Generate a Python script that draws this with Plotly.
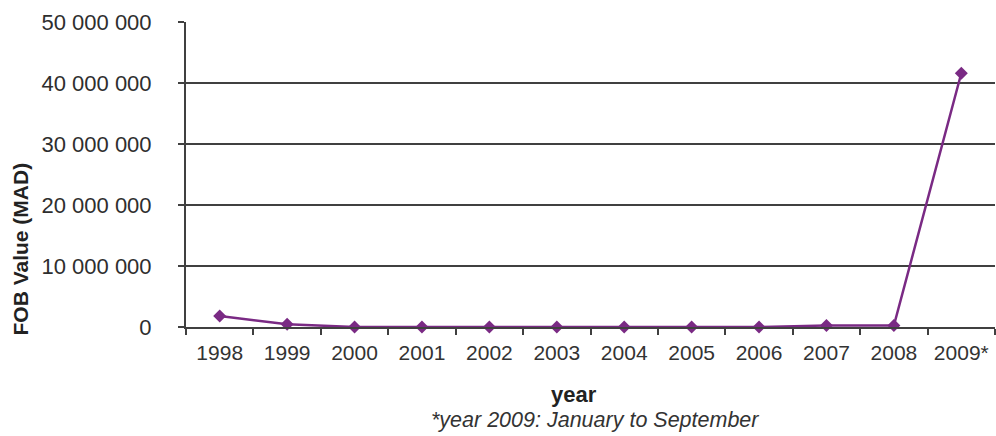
import plotly.graph_objects as go

years = ["1998", "1999", "2000", "2001", "2002", "2003", "2004", "2005", "2006", "2007", "2008", "2009*"]
fob_values = [1800000, 450000, 0, 0, 0, 0, 0, 0, 0, 250000, 250000, 41600000]
y_ticks = [0, 10000000, 20000000, 30000000, 40000000, 50000000]
y_tick_labels = ["0", "10 000 000", "20 000 000", "30 000 000", "40 000 000", "50 000 000"]

FONT = "Liberation Sans, Arial, sans-serif"

fig = go.Figure()
fig.add_trace(go.Scatter(
    x=years, y=fob_values, mode="lines+markers",
    line=dict(color="#7A2A84", width=2.5),
    marker=dict(symbol="diamond", size=10, color="#7A2A84"),
    showlegend=False, cliponaxis=False,
))

fig.update_layout(
    width=996, height=436,
    margin=dict(l=186, r=1, t=22, b=109),
    plot_bgcolor="white", paper_bgcolor="white",
    font=dict(family=FONT, color="#333333"),
    xaxis=dict(
        type="category", range=[-0.5, len(years) - 0.5],
        tickson="boundaries", ticks="outside", ticklen=6,
        tickcolor="#404040", tickwidth=2, tickangle=0,
        showline=True, linecolor="#404040", linewidth=2,
        showgrid=False, tickfont=dict(size=21, color="#333333", family=FONT),
        ticklabelstandoff=6,
    ),
    yaxis=dict(
        range=[0, 50000000], tickvals=y_ticks, ticktext=y_tick_labels,
        ticks="outside", ticklen=6, tickcolor="#404040", tickwidth=2,
        showline=True, linecolor="#404040", linewidth=2,
        showgrid=True, gridcolor="#404040", gridwidth=2, zeroline=False,
        tickfont=dict(size=22, color="#2e2e2e", family=FONT),
        ticklabelstandoff=22,
    ),
    annotations=[
        dict(text="<b>FOB Value (MAD)</b>", x=0, y=0.5, xref="paper", yref="paper",
             xshift=-166, yshift=-75, textangle=-90, xanchor="center", yanchor="middle",
             showarrow=False, font=dict(size=21, color="#222222", family=FONT)),
        dict(text="<b>year</b>", x=0.5, y=0, xref="paper", yref="paper",
             xshift=-17, yshift=-67, xanchor="center", yanchor="middle",
             showarrow=False, font=dict(size=22, color="#222222", family=FONT)),
        dict(text="<i>*year 2009: January to September</i>", x=0.5, y=0, xref="paper", yref="paper",
             xshift=4, yshift=-93, xanchor="center", yanchor="middle", showarrow=False,
             font=dict(size=21.5, color="#333333", family=FONT)),
    ],
)

fig.write_html("out.html", config={"displayModeBar": False},
               post_script="document.body.style.margin='0';")
